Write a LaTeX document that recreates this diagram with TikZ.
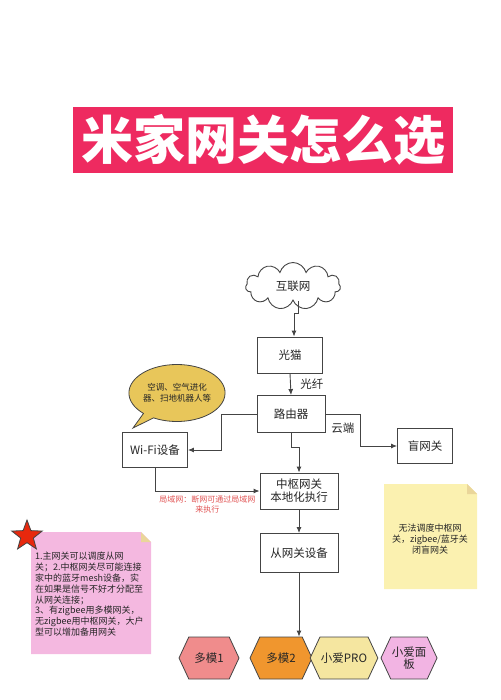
\documentclass[tikz,border=0pt]{standalone}
\usepackage{fontspec}
\setmainfont{Noto Sans CJK SC}
\usetikzlibrary{arrows.meta,shapes.geometric,shapes.symbols,shapes.callouts}
\definecolor{titlered}{HTML}{EE2A60}
\definecolor{linegray}{HTML}{444444}
\definecolor{bubbley}{HTML}{E8C65A}
\definecolor{notepink}{HTML}{F4B8E0}
\definecolor{noteyel}{HTML}{FBF1B0}
\definecolor{foldtan}{HTML}{EAD69A}
\definecolor{hexsalmon}{HTML}{F08C8C}
\definecolor{hexorange}{HTML}{F0962E}
\definecolor{hexyel}{HTML}{F5E6A0}
\definecolor{hexpink}{HTML}{F2B4E3}
\definecolor{lanred}{HTML}{E05252}
\begin{document}
\begin{tikzpicture}[x=1pt, y=-1pt, every node/.style={font=\fontsize{11.5}{14}\selectfont, text=black!85}, box/.style={rectangle,draw=linegray,line width=0.9pt,fill=white,align=center}, arr/.style={draw=linegray,line width=0.9pt,-{Latex[length=6pt,width=5pt]}}, hex/.style={signal,signal to=west and east,signal pointer angle=130,draw=linegray,line width=0.8pt,minimum height=42pt,align=center,inner sep=1pt}, small/.style={font=\fontsize{9}{10.8}\selectfont}]
\useasboundingbox (0,0) rectangle (500,700);
% title banner
\fill[titlered] (73,107) rectangle (453,173);
\node[text=white,font=\fontsize{52}{56}\selectfont\bfseries] (title) at (263,140) {米家网关怎么选};
% main chain
\node[cloud,cloud puffs=11,aspect=2.1,draw=linegray,line width=0.9pt,fill=white,minimum width=95pt,minimum height=47pt,inner sep=0pt] (net) at (293,286) {互联网};
\node[box,minimum width=65pt,minimum height=36pt] (modem) at (290,355) {光猫};
\node[box,minimum width=68pt,minimum height=37pt] (router) at (291,414) {路由器};
\node[box,minimum width=65pt,minimum height=35pt] (wifi) at (155,450) {Wi-Fi设备};
\node[box,minimum width=55pt,minimum height=35pt] (blind) at (425,446) {盲网关};
\node[box,minimum width=78pt,minimum height=36pt,inner sep=1pt] (hub) at (299,491) {中枢网关\\[-1pt]本地化执行};
\node[box,minimum width=78pt,minimum height=39pt] (sub) at (299,553) {从网关设备};
\draw[arr] ([xshift=5pt]net.south) -- ++(0,12) -| ([xshift=4pt]modem.north);
\draw[arr] (modem.south) -- (router.north) node[midway,right=6pt] {光纤};
\draw[arr] (router.west) -- ++(-35,0) |- (wifi.east);
\draw[arr] (router.east) -- ++(35,0) node[midway,below=5pt] {云端} |- (blind.west);
\draw[arr] (router.south) -- ++(0,14) -| (hub.north);
\draw[arr] (wifi.south) |- node[pos=0.75,below=1pt,small,font=\fontsize{8}{10}\selectfont,text=lanred,align=center] {局域网：断网可通过局域网\\来执行} (hub.west);
\draw[arr] (hub.south) -- (sub.north);
% devices
\node[hex,fill=hexsalmon,minimum width=60pt] (h1) at (209,658) {多模1};
\node[hex,fill=hexorange,minimum width=62pt] (h2) at (281,658) {多模2};
\node[hex,fill=hexyel,minimum width=58pt] (h3) at (344,658) {小爱PRO};
\node[hex,fill=hexpink,minimum width=55pt] (h4) at (409,658) {小爱面\\[-2pt]板};
\draw[arr] (sub.south) -- (sub.south |- h2.north);
% wifi bubble
\node[ellipse callout,callout absolute pointer={(133,428)},draw=linegray,line width=0.8pt,fill=bubbley,minimum width=90pt,minimum height=57pt,inner sep=0pt,align=center,font=\fontsize{8.5}{11}\selectfont] (bubble) at (177,393) {空调、空气进化\\器、扫地机器人等};
% notes
\fill[notepink] (31,532) -- (141,532) -- (151,542) -- (151,654) -- (31,654) -- cycle;
\fill[foldtan] (141,532) -- (141,542) -- (151,542) -- cycle;
\node[small,anchor=north west,align=left,inner sep=0pt] (tips) at (35,552) {1.主网关可以调度从网\\关；2.中枢网关尽可能连接\\家中的蓝牙mesh设备，实\\在如果是信号不好才分配至\\从网关连接；\\3、有zigbee用多模网关，\\无zigbee用中枢网关，大户\\型可以增加备用网关};
\node[star,star points=5,star point ratio=2.4,draw=linegray,line width=0.8pt,fill=red!75!orange!90!black!95,minimum size=32pt,inner sep=0pt] (mark) at (27,536) {};
\fill[noteyel] (384,484) -- (467,484) -- (477,494) -- (477,589) -- (384,589) -- cycle;
\fill[foldtan] (467,484) -- (467,494) -- (477,494) -- cycle;
\node[small,align=center] (blindnote) at (430,539) {无法调度中枢网\\关，zigbee/蓝牙关\\闭盲网关};
\end{tikzpicture}
\end{document}
